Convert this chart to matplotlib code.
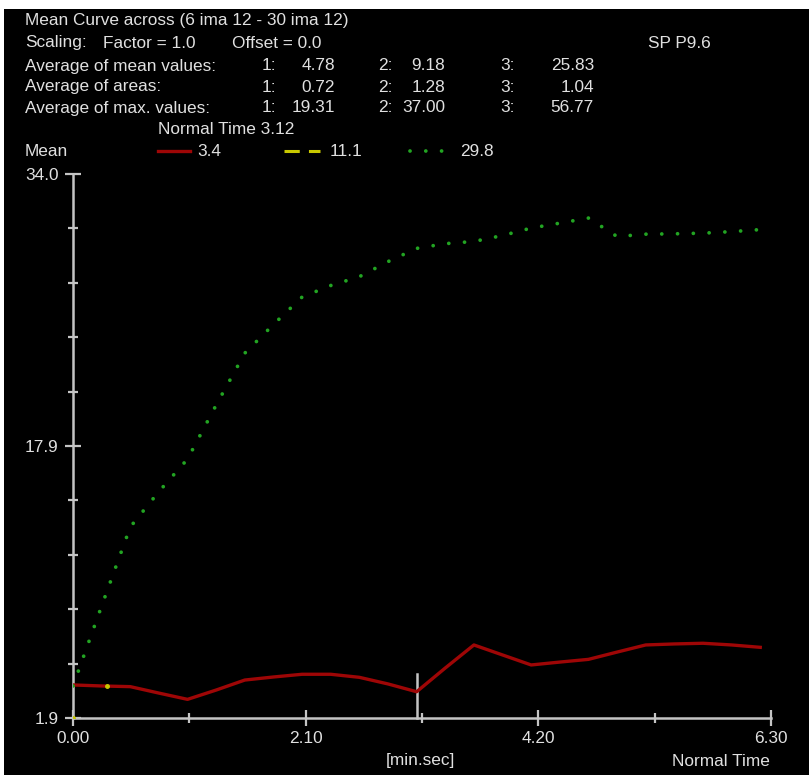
import matplotlib
matplotlib.use("Agg")
import matplotlib.pyplot as plt
from matplotlib.lines import Line2D
from matplotlib.patches import Rectangle
import numpy as np

# ---------------- data ----------------
time_s = [0, 16, 32, 48, 64, 80, 96, 112, 128, 144, 160, 176, 192,
          208, 224, 240, 256, 272, 288, 304, 320, 336, 352, 368, 384]
roi1_mean = [3.85, 3.79, 3.75, 3.37, 3.00, 3.55, 4.14, 4.32, 4.48, 4.48, 4.30, 3.91, 3.45,
             4.85, 6.21, 5.62, 5.03, 5.20, 5.36, 5.79, 6.21, 6.27, 6.31, 6.21, 6.07]
roi3_mean = [3.79, 8.51, 13.17, 15.26, 17.18, 20.37, 23.43, 25.12, 26.74, 27.42, 27.94, 28.83, 29.61,
             29.89, 30.02, 30.37, 30.81, 31.10, 31.40, 30.31, 30.45, 30.47, 30.51, 30.60, 30.72]
roi2_time = [0, 19]
roi2_mean = [1.9, 3.8]

legend_values = ["3.4", "11.1", "29.8"]
x_major = [0, 130, 260, 390]
x_major_labels = ["0.00", "2.10", "4.20", "6.30"]
x_minor = [65, 195, 325]
y_min, y_max = 1.9, 34.0
y_major_labels = ["1.9", "17.9", "34.0"]
normal_time_s = 192

header_rows = [
    ("Average of mean values:", ["4.78", "9.18", "25.83"]),
    ("Average of areas:", ["0.72", "1.28", "1.04"]),
    ("Average of max. values:", ["19.31", "37.00", "56.77"]),
]

# ---------------- figure ----------------
W, H = 809, 775
fig = plt.figure(figsize=(W / 100, H / 100), dpi=100, facecolor="white")
plt.rcParams["font.family"] = ["Liberation Sans", "DejaVu Sans"]

def P(x, y):
    return (x / W, 1 - y / H)

fig.add_artist(Rectangle(P(4, H), (W - 4) / W, (H - 9) / H,
                         transform=fig.transFigure, facecolor="black",
                         edgecolor="none", zorder=-10))

L, R, T, B = 73, 771, 174, 718
ax = fig.add_axes([L / W, 1 - B / H, (R - L) / W, (B - T) / H])
ax.set_facecolor("black")
ax.patch.set_alpha(0)

txt = "#e0e0e0"
axc = "#c4c4c4"
red = "#9e0606"
green = "#22a422"
yellow = "#c8c800"
dot_style = (0, (0.01, 4.2))

ax.plot(time_s, roi1_mean, color=red, lw=2.4, solid_joinstyle="round", zorder=3)
ax.plot(time_s, roi3_mean, color=green, lw=2.7, linestyle=dot_style,
        dash_capstyle="round", zorder=3)
ax.plot(roi2_time, roi2_mean, linestyle="none", marker="o", ms=2.5,
        color=yellow, zorder=4)

ax.set_xlim(0, 390)
ax.set_ylim(y_min, y_max)

for s in ["top", "right"]:
    ax.spines[s].set_visible(False)
for s in ["left", "bottom"]:
    ax.spines[s].set_color(axc)
    ax.spines[s].set_linewidth(1.8)

ax.set_xticks(x_major)
ax.set_xticklabels(x_major_labels)
ax.set_xticks(x_minor, minor=True)
y_mid = (y_min + y_max) / 2
ax.set_yticks([y_min, y_mid, y_max])
ax.set_yticklabels(y_major_labels)
step = (y_max - y_min) / 10
ax.set_yticks([y_min + k * step for k in range(1, 10) if k != 5], minor=True)

fs = 12.4
ax.tick_params(axis="both", which="major", direction="inout", length=11, width=1.6,
               color=axc, labelcolor=txt, labelsize=fs)
ax.tick_params(axis="both", which="minor", direction="inout", length=7, width=1.6,
               color=axc)
ax.tick_params(axis="x", which="major", pad=4)
ax.tick_params(axis="y", which="major", pad=5)

# normal-time marker
ax.plot([normal_time_s, normal_time_s], [y_min, 4.48], color=axc, lw=1.8, zorder=2,
        clip_on=False)

# ---------------- texts ----------------
def ftext(x, y, s, ha="left", **kw):
    fig.text(*P(x, y), s, ha=ha, va="center", color=txt, fontsize=fs, **kw)

ftext(25, 20, "Mean Curve across (6 ima 12 - 30 ima 12)")
ftext(25, 43, "Scaling:")
ftext(103, 43, "Factor = 1.0")
ftext(232, 43, "Offset = 0.0")
ftext(648, 43, "SP P9.6")
for i, (lab, vals) in enumerate(header_rows):
    yy = 66 + 21 * i
    ftext(25, yy, lab)
    for j, (cx, vx) in enumerate([(262, 335), (378, 445), (500, 594)]):
        ftext(cx, yy, f"{j + 1}:")
        ftext(vx, yy, vals[j], ha="right")
ftext(158, 130, "Normal Time 3.12")
ftext(25, 151, "Mean")

# legend
leg_y = 151
fig.add_artist(Line2D([158 / W, 190 / W], [1 - leg_y / H] * 2, color=red, lw=2.4,
                      transform=fig.transFigure))
ftext(197, leg_y, legend_values[0])
fig.add_artist(Line2D([284 / W, 320 / W], [1 - leg_y / H] * 2, color=yellow, lw=2.2,
                      linestyle=(0, (5, 3)), transform=fig.transFigure))
ftext(330, leg_y, legend_values[1])
fig.add_artist(Line2D([410 / W, 444 / W], [1 - leg_y / H] * 2, color=green, lw=2.7,
                      linestyle=dot_style, dash_capstyle="round",
                      transform=fig.transFigure))
ftext(460, leg_y, legend_values[2])

ftext(420, 761, "[min.sec]", ha="center")
ftext(770, 761, "Normal Time", ha="right")

fig.savefig("out.png", dpi=100, facecolor="white")
